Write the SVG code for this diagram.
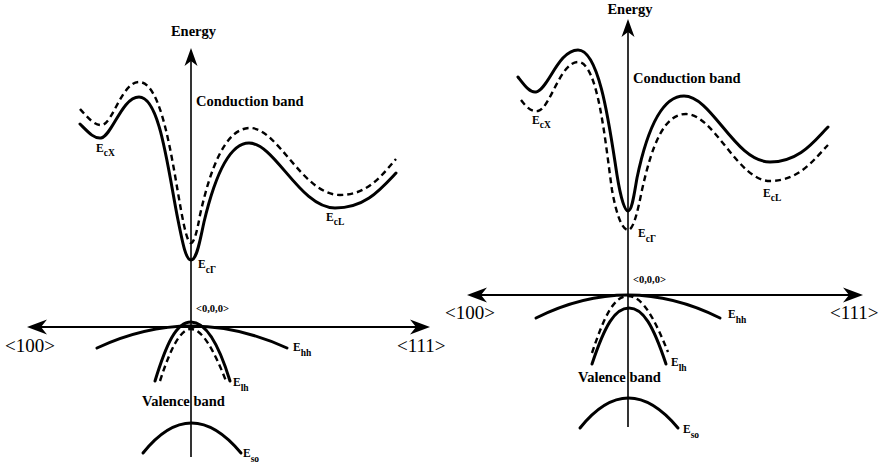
<svg xmlns="http://www.w3.org/2000/svg" width="880" height="469" viewBox="0 0 880 469">
<style>
.t{font-family:"Liberation Serif","Times New Roman",Tinos,serif;fill:#000}
.b{font-weight:bold;font-size:14.5px}
.dir{font-size:19px}
.k{font-weight:bold;font-size:10.5px}
.e{font-weight:bold;font-size:11.5px}
.s{font-size:9.5px}
.sol{fill:none;stroke:#000;stroke-width:3;stroke-linecap:round}
.dsh{fill:none;stroke:#000;stroke-width:2.4;stroke-dasharray:6 4}
.ax{fill:none;stroke:#000}
</style>
<defs>
<marker id="arr" markerUnits="userSpaceOnUse" orient="auto-start-reverse" overflow="visible" markerWidth="1" markerHeight="1" refX="0" refY="0">
<path d="M8,0 L-12,-7.5 L-6,0 L-12,7.5 Z" fill="#000"/>
</marker>
<marker id="arrv" markerUnits="userSpaceOnUse" orient="auto" overflow="visible" markerWidth="1" markerHeight="1" refX="0" refY="0">
<path d="M8,0 L-10,-6.5 L-5,0 L-10,6.5 Z" fill="#000"/>
</marker>
</defs>
<rect width="880" height="469" fill="#fff"/>

<g id="connectors">
<line class="ax" x1="191" y1="457" x2="191" y2="56" stroke-width="1.6" marker-end="url(#arrv)"/>
<line class="ax" x1="35" y1="327" x2="422" y2="327" stroke-width="2.2" marker-start="url(#arr)" marker-end="url(#arr)"/>
<line class="ax" x1="628" y1="427" x2="628" y2="27" stroke-width="1.6" marker-end="url(#arrv)"/>
<line class="ax" x1="475" y1="295" x2="855" y2="295" stroke-width="2.2" marker-start="url(#arr)" marker-end="url(#arr)"/>
</g>

<g id="left-conduction">
<path class="sol" d="M80,124 C88,132 94,139 101,138 C112,136 122,97 139,97 C160,97 168,170 178,220 C183,245 186,260 191,260 C197,260 200,240 204,222 C214,180 228,143 249,143 C275,143 300,208 335,208 C365,208 380,190 396,173"/>
<path class="dsh" d="M80,109 C88,118 95,126 102,125 C113,123 122,82 139,82 C162,82 172,160 181,210 C185,232 188,243 191,243 C194,243 197,232 200,215 C210,170 225,128 250,128 C278,128 303,195 340,195 C368,195 382,175 396,159"/>
</g>
<g id="left-valence">
<path class="sol" d="M97,348 Q191,304 287,348"/>
<path class="sol" stroke-width="3.4" d="M155,381 C166,345 176,322 191,322 C206,322 219,345 230,381"/>
<path class="dsh" d="M160,381 C170,350 180,329 191,329 C202,329 214,350 226,381"/>
<path class="sol" d="M143,453 Q191,393 241,453"/>
</g>
<g id="left-labels">
<text class="t b" x="193.5" y="36" text-anchor="middle">Energy</text>
<text class="t b" x="196" y="106">Conduction band</text>
<text class="t b" x="142" y="406">Valence band</text>
<text class="t dir" x="5" y="352">&lt;100&gt;</text>
<text class="t dir" x="397" y="352">&lt;111&gt;</text>
<text class="t k" x="196" y="312">&lt;0,0,0&gt;</text>
<text class="t e" x="96" y="152">E<tspan class="s" dy="4">cX</tspan></text>
<text class="t e" x="326" y="221">E<tspan class="s" dy="4">cL</tspan></text>
<text class="t e" x="198" y="268">E<tspan class="s" dy="5">cΓ</tspan></text>
<text class="t e" x="293" y="351">E<tspan class="s" dy="5">hh</tspan></text>
<text class="t e" x="233" y="386">E<tspan class="s" dy="5">lh</tspan></text>
<text class="t e" x="243" y="457">E<tspan class="s" dy="5">so</tspan></text>
</g>

<g id="right-conduction">
<path class="sol" d="M518,77 C525,86 530,93 536,92 C548,90 558,50 578,50 C600,50 610,130 617,175 C621,200 625,211 628,211 C632,211 634,195 637,178 C647,130 662,96 684,96 C712,96 735,162 770,162 C800,162 815,140 828,127"/>
<path class="dsh" d="M521,100 C527,108 532,112 538,111 C550,109 560,62 578,62 C598,62 605,140 612,190 C617,218 623,230 628,230 C633,230 637,215 642,190 C652,145 664,114 686,114 C714,114 738,181 770,181 C800,181 815,158 828,145"/>
</g>
<g id="right-valence">
<path class="sol" d="M536,318 Q628,272 720,318"/>
<path class="sol" d="M592,364 C605,325 615,308 629,308 C643,308 653,325 666,364"/>
<path class="dsh" d="M592,353 C603,320 613,296 628,296 C643,296 655,320 668,352"/>
<path class="sol" d="M580,428 Q628,368 678,428"/>
</g>
<g id="right-labels">
<text class="t b" x="630" y="14" text-anchor="middle">Energy</text>
<text class="t b" x="633" y="83">Conduction band</text>
<text class="t b" x="578" y="382">Valence band</text>
<text class="t dir" x="445" y="319">&lt;100&gt;</text>
<text class="t dir" x="830" y="319">&lt;111&gt;</text>
<text class="t k" x="633" y="283">&lt;0,0,0&gt;</text>
<text class="t e" x="532" y="124">E<tspan class="s" dy="4">cX</tspan></text>
<text class="t e" x="763" y="197">E<tspan class="s" dy="4">cL</tspan></text>
<text class="t e" x="638" y="237">E<tspan class="s" dy="5">cΓ</tspan></text>
<text class="t e" x="728" y="318">E<tspan class="s" dy="5">hh</tspan></text>
<text class="t e" x="671" y="366">E<tspan class="s" dy="5">lh</tspan></text>
<text class="t e" x="683" y="433">E<tspan class="s" dy="5">so</tspan></text>
</g>
</svg>
